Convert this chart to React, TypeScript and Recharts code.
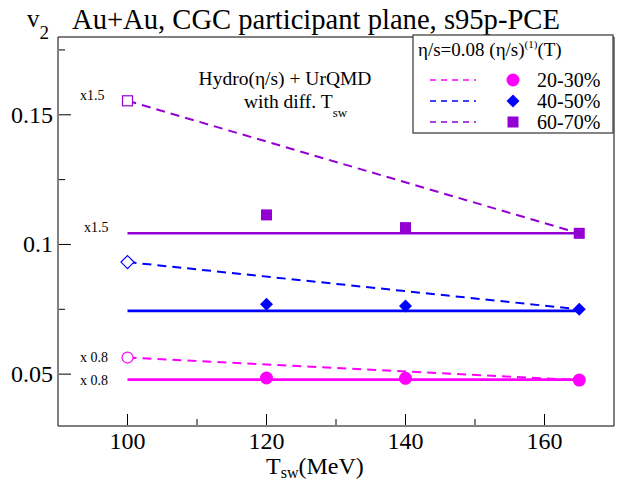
import { ComposedChart, ReferenceArea, Scatter, XAxis, YAxis } from "recharts";

// centrality classes, colours in the same order
const centralities = ["20-30%", "40-50%", "60-70%"];
const colors = ["#ff00ff", "#0000ff", "#9400d3"];

// full hydro+UrQMD points
const tswValues = [120, 140, 165];
const v2Cent2030 = [0.0485, 0.0484, 0.0477];
const v2Cent4050 = [0.0769, 0.0763, 0.075];
const v2Cent6070 = [0.1114, 0.1065, 0.1043];

// open symbols at the lowest switching temperature
const tswLow = 100;
const v2Low = [0.0564, 0.0932, 0.1554];

// flat reference lines
const flatRange = [100, 165];
const v2Flat = [0.0479, 0.0744, 0.1043];

const xTicks = [100, 110, 120, 130, 140, 150, 160];
const yTicks = [0.05, 0.075, 0.1, 0.125, 0.15, 0.175];

const FONT = "'Liberation Serif', 'DejaVu Serif', serif";

const series = [v2Cent2030, v2Cent4050, v2Cent6070];

const points = (vals: number[]) => tswValues.map((x, i) => ({ x, y: vals[i] }));

function Marker({ kind, cx, cy, color, open }: any) {
  const fill = open ? "#fff" : color;
  const sw = open ? 1.2 : 0;
  if (kind === 0) return <circle cx={cx} cy={cy} r={open ? 5.5 : 6.5} fill={fill} stroke={color} strokeWidth={sw} />;
  if (kind === 1) {
    const h = 6.5;
    return (
      <polygon
        points={`${cx},${cy - h} ${cx + h},${cy} ${cx},${cy + h} ${cx - h},${cy}`}
        fill={fill}
        stroke={color}
        strokeWidth={sw}
      />
    );
  }
  const s = open ? 10 : 11;
  return <rect x={cx - s / 2} y={cy - s / 2} width={s} height={s} fill={fill} stroke={color} strokeWidth={sw} />;
}

// inward ticks, labels outside; minor ticks without labels
const renderXTick = (props: any) => {
  const { x, y, payload } = props;
  const major = payload.value % 20 === 0;
  return (
    <g key={`xt-${payload.value}`}>
      <line x1={x} x2={x} y1={y - 1} y2={y - 1 - (major ? 11 : 6)} stroke="#000" />
      {major && (
        <text x={x} y={y + 23} textAnchor="middle" fontFamily={FONT} fontSize={24} fill="#000">
          {payload.value}
        </text>
      )}
    </g>
  );
};

const renderYTick = (props: any) => {
  const { x, y, payload } = props;
  const v = payload.value;
  const major = Math.abs(v * 20 - Math.round(v * 20)) < 1e-6;
  return (
    <g key={`yt-${v}`}>
      <line x1={x + 1} x2={x + 1 + (major ? 12 : 6)} y1={y} y2={y} stroke="#000" />
      {major && (
        <text x={x - 5} y={y + 8} textAnchor="end" fontFamily={FONT} fontSize={24} fill="#000">
          {String(v)}
        </text>
      )}
    </g>
  );
};

function Overlay() {
  const rows = [87, 108, 129];
  return (
    <svg width={620} height={480} style={{ position: "absolute", left: 0, top: 0, pointerEvents: "none" }}>
      <g fill="#000">
        <text x={27} y={27} fontSize={25} fontFamily={FONT}>
          v<tspan fontSize={19} dy={12}>2</tspan>
        </text>
        <text x={72} y={29} fontSize={28.6} fontFamily={FONT}>Au+Au, CGC participant plane, s95p-PCE</text>

        <text x={285} y={85} fontSize={19.5} textAnchor="middle" fontFamily={FONT}>Hydro(η/s) + UrQMD</text>
        <text x={244} y={108} fontSize={19.5} fontFamily={FONT}>
          with diff. T<tspan fontSize={13} dy={9}>sw</tspan>
        </text>

        <text x={80} y={100} fontSize={14} fontFamily={FONT}>x1.5</text>
        <text x={84} y={232} fontSize={14} fontFamily={FONT}>x1.5</text>
        <text x={80} y={362} fontSize={14} fontFamily={FONT}>x 0.8</text>
        <text x={80} y={385} fontSize={14} fontFamily={FONT}>x 0.8</text>

        <text x={266} y={474} fontSize={24} fontFamily={FONT}>
          T<tspan fontSize={16} dy={4}>sw</tspan>
          <tspan dy={-4} fontSize={24}>(MeV)</tspan>
        </text>

        <rect x={413} y={35} width={200} height={98} fill="#fff" stroke="#444" strokeWidth={1.3} />
        <text x={418} y={56} fontSize={19} fontFamily={FONT}>
          η/s=0.08 (η/s)<tspan fontSize={11} dy={-8}>(1)</tspan>
          <tspan fontSize={19} dy={8}>(T)</tspan>
        </text>
        {centralities.map((c, i) => (
          <g key={c}>
            <line x1={430} x2={476} y1={rows[i] - 7} y2={rows[i] - 7} stroke={colors[i]} strokeWidth={1.5} strokeDasharray="6 5" />
            <Marker kind={i} cx={513} cy={rows[i] - 7} color={colors[i]} open={false} />
            <text x={537} y={rows[i]} fontSize={20} fontFamily={FONT}>{c}</text>
          </g>
        ))}
      </g>
    </svg>
  );
}

export default function App() {
  return (
    <div style={{ position: "absolute", left: 0, top: 0, width: 620, height: 480, background: "#fff" }}>
      <ComposedChart width={620} height={480} margin={{ top: 37, right: 6, bottom: 53, left: 57 }}>
        <XAxis
          type="number"
          dataKey="x"
          domain={[90, 170]}
          ticks={xTicks}
          interval={0}
          height={1}
          tickSize={0}
          tickMargin={0}
          axisLine={false}
          tickLine={false}
          tick={renderXTick}
          allowDataOverflow
        />
        <YAxis
          type="number"
          dataKey="y"
          domain={[0.03, 0.18]}
          ticks={yTicks}
          interval={0}
          width={1}
          tickSize={0}
          tickMargin={0}
          axisLine={false}
          tickLine={false}
          tick={renderYTick}
          allowDataOverflow
        />
        <ReferenceArea x1={90} x2={170} y1={0.03} y2={0.18} fill="none" stroke="#000" strokeWidth={1} />

        {series.map((vals, i) => (
          <Scatter
            key={`dash-${i}`}
            data={[{ x: tswLow, y: v2Low[i] }, { x: tswValues[2], y: vals[2] }]}
            line={{ stroke: colors[i], strokeWidth: 2, strokeDasharray: "9 6" }}
            shape={() => <g />}
            isAnimationActive={false}
          />
        ))}
        {series.map((_, i) => (
          <Scatter
            key={`flat-${i}`}
            data={flatRange.map((x) => ({ x, y: v2Flat[i] }))}
            line={{ stroke: colors[i], strokeWidth: 2.6 }}
            shape={() => <g />}
            isAnimationActive={false}
          />
        ))}
        {series.map((_, i) => (
          <Scatter
            key={`open-${i}`}
            data={[{ x: tswLow, y: v2Low[i] }]}
            shape={(p: any) => <Marker kind={i} cx={p.cx} cy={p.cy} color={colors[i]} open />}
            isAnimationActive={false}
          />
        ))}
        {series.map((vals, i) => (
          <Scatter
            key={`pts-${i}`}
            data={points(vals)}
            shape={(p: any) => <Marker kind={i} cx={p.cx} cy={p.cy} color={colors[i]} open={false} />}
            isAnimationActive={false}
          />
        ))}
      </ComposedChart>
      <Overlay />
    </div>
  );
}
